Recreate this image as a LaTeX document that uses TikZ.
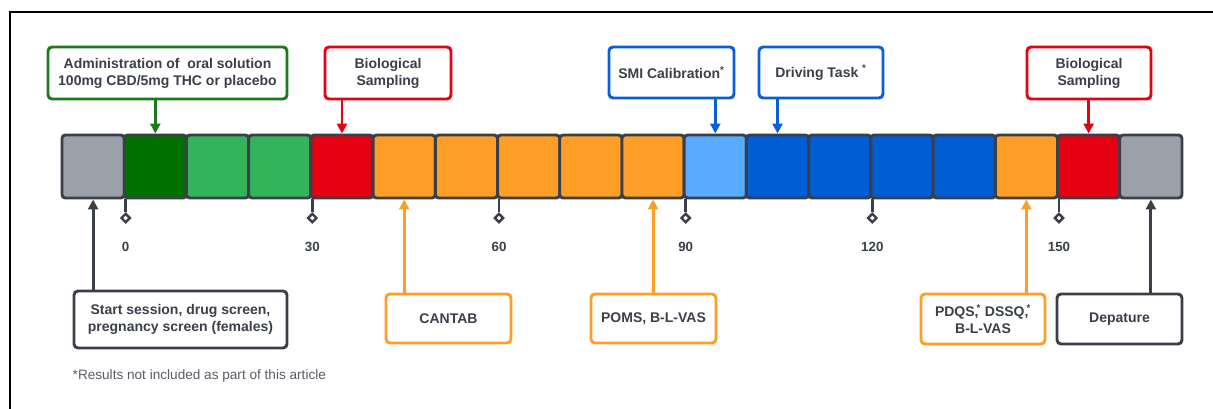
\documentclass[tikz,border=0pt]{standalone}
\usepackage{fontspec}
\setmainfont{Liberation Sans}
\usetikzlibrary{arrows.meta,positioning,shapes.geometric}
\definecolor{ink}{HTML}{3A3F4A}
\definecolor{idle}{HTML}{9CA0AA}
\definecolor{dose}{HTML}{007000}
\definecolor{absorb}{HTML}{34B45A}
\definecolor{sample}{HTML}{E50012}
\definecolor{cogn}{HTML}{FF9E27}
\definecolor{calib}{HTML}{58ABFF}
\definecolor{drive}{HTML}{005DD4}
\definecolor{doseLine}{HTML}{1C7A1C}
\definecolor{driveLine}{HTML}{0A5FD6}
\tikzset{
  cell/.style={draw=ink, line width=2.2pt, rounded corners=2.5pt, minimum width=46.67pt,
               minimum height=47.25pt, inner sep=0pt},
  event/.style={draw=#1, fill=white, line width=2.2pt, rounded corners=3pt, text=ink,
                font=\bfseries\fontsize{10.5}{12.75}\selectfont, align=center, inner sep=0pt},
  flow/.style={-{Triangle[length=7.5pt,width=7.5pt]}, line width=2.2pt},
  tickmark/.style={diamond, draw=ink, fill=white, line width=1.8pt, minimum size=7pt, inner sep=0pt},
  ticklabel/.style={font=\bfseries\fontsize{10}{12}\selectfont, text=ink},
  note/.style={font=\fontsize{10.2}{12}\selectfont, text=ink!85}
}
\begin{document}
\begin{tikzpicture}[x=0.75pt,y=-0.75pt]
  \useasboundingbox (0,0) rectangle (1213,409);
  \draw[line width=1.6pt] (10,430) |- (1230,12);

  % timeline cells
  \foreach \shade [count=\i] in {idle,dose,absorb,absorb,sample,cogn,cogn,cogn,cogn,cogn,
                                 calib,drive,drive,drive,drive,cogn,sample,idle}
    \node[cell, fill=\shade] (c\i) at ({93.11+(\i-1)*62.22},166.5) {};

  % minute ticks
  \foreach \i/\mins in {1/0,4/30,7/60,10/90,13/120,16/150} {
    \node[tickmark, below=9.5pt of c\i.south east] (t\mins) {};
    \draw[ink, line width=1.8pt] (c\i.south east) -- (t\mins.north);
    \node[ticklabel, below=10.5pt of t\mins] (l\mins) {\mins};
  }

  % events above
  \node[event=doseLine, minimum width=179.25pt, minimum height=39pt] (admin) at (167.5,73)
    {Administration of\ \ oral solution\\100mg CBD/5mg THC or placebo};
  \node[event=sample, minimum width=94.5pt, minimum height=39pt] (bio1) at (388,73)
    {Biological\\Sampling};
  \node[event=driveLine, minimum width=93.75pt, minimum height=38.25pt] (smi) at (671.5,72.5)
    {SMI Calibration\textsuperscript{*}};
  \node[event=driveLine, minimum width=93pt, minimum height=38.25pt] (drv) at (821,72.5)
    {Driving Task \textsuperscript{*}};
  \node[event=sample, minimum width=93pt, minimum height=39pt] (bio2) at (1089,73)
    {Biological\\Sampling};

  \draw[flow, doseLine] (admin.south -| c2) -- (c2.north);
  \draw[flow, sample] (bio1.south -| c5) -- (c5.north);
  \draw[flow, driveLine] (smi.south -| c11) -- (c11.north);
  \draw[flow, driveLine] (drv.south -| c12) -- (c12.north);
  \draw[flow, sample] (bio2.south -| c17) -- (c17.north);

  % events below
  \node[event=ink, minimum width=159.75pt, minimum height=42.75pt] (start) at (180.5,319.5)
    {Start session, drug screen,\\pregnancy screen (females)};
  \node[event=cogn, minimum width=93.75pt, minimum height=36.75pt] (cantab) at (448.5,318.5)
    {CANTAB};
  \node[event=cogn, minimum width=93.75pt, minimum height=36.75pt] (poms) at (653.5,318.5)
    {POMS, B-L-VAS};
  \node[event=cogn, minimum width=93pt, minimum height=37.5pt] (pdqs) at (983,319)
    {PDQS,\kern-1.5pt\textsuperscript{*} DSSQ,\kern-1.5pt\textsuperscript{*}\\B-L-VAS};
  \node[event=ink, minimum width=93.75pt, minimum height=37.5pt] (depart) at (1119.5,319)
    {Depature};

  \draw[flow, ink] (start.north -| c1) -- (c1.south);
  \draw[flow, cogn] (cantab.north -| c6) -- (c6.south);
  \draw[flow, cogn] (poms.north -| c10) -- (c10.south);
  \draw[flow, cogn] (pdqs.north -| c16) -- (c16.south);
  \draw[flow, ink] (depart.north -| c18) -- (c18.south);

  \node[note, anchor=west] (foot) at (68,376) {*Results not included as part of this article};
\end{tikzpicture}
\end{document}
